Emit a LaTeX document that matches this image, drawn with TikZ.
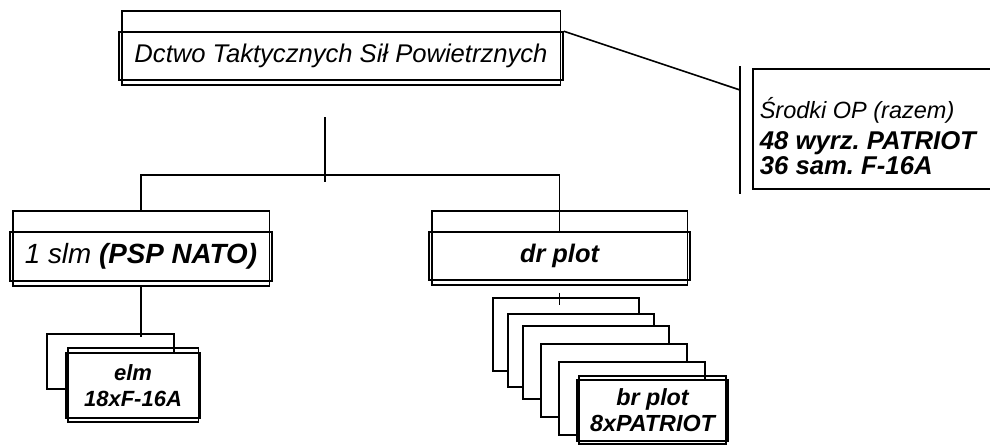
\documentclass[tikz,border=0pt]{standalone}
\usepackage{fontspec}
\setmainfont{Liberation Sans}
\usepackage{tikz}
\usetikzlibrary{positioning}
\frenchspacing

\tikzset{
	pole/.style={draw, inner sep=0pt, align=center},
	karta/.style={draw, fill=white, inner sep=0pt, align=center},
	tyl/.style={draw, fill=white, inner sep=0pt, anchor=north west, minimum width=146, minimum height=73},
}
% narrower, taller frame laid over a box: #1 node, #2 extra above, #3 extra below, #4 side inset
\newcommand{\ramka}[4]{\draw ([xshift=#4,yshift=#2]#1.north west) rectangle ([xshift=-#4,yshift=-#3]#1.south east);}

\begin{document}
\begin{tikzpicture}[x=1pt, y=-1pt, line width=1.6pt]
	\useasboundingbox (0,0) rectangle (990,447);

	% dowodztwo
	\node at (341,56) (dowodztwo) [pole, minimum width=444, minimum height=48,
		font=\itshape\fontsize{25.6}{30}\selectfont] {Dctwo Taktycznych Sił Powietrznych};
	\ramka{dowodztwo}{20pt}{4pt}{3.5pt}

	% srodki OP
	\node at (752,68) (ramkaop) [draw, anchor=north west, minimum width=260, minimum height=120] {};
	\node at (759,118) (srodki) [anchor=base west, inner sep=0pt,
		font=\itshape\fontsize{23.5}{28}\selectfont] {Środki OP (razem)};
	\node at (759,149) (wyrzutnie) [anchor=base west, inner sep=0pt,
		font=\bfseries\itshape\fontsize{25.7}{30}\selectfont] {48 wyrz. PATRIOT};
	\node at (759,174) (samoloty) [anchor=base west, inner sep=0pt,
		font=\bfseries\itshape\fontsize{25.7}{30}\selectfont] {36 sam. F-16A};
	\coordinate (klamra) at (740,90);
	\draw (dowodztwo.north east) -- (klamra);
	\draw ([xshift=-12pt,yshift=2pt]ramkaop.north west) -- ([xshift=-12pt,yshift=-4pt]ramkaop.south west);

	% pulk i dywizjon
	\node at (141,256.5) (slm) [pole, minimum width=262, minimum height=49,
		font=\itshape\fontsize{27.8}{32}\selectfont] {1 slm \textbf{(PSP NATO)}};
	\ramka{slm}{20pt}{4pt}{3.5pt}
	\node at (559.5,256) (plot) [pole, minimum width=261, minimum height=48,
		font=\bfseries\itshape\fontsize{25.4}{30}\selectfont] {dr plot};
	\ramka{plot}{20pt}{4pt}{3.5pt}

	\coordinate (pion) at (325,117);
	\coordinate (wezel) at (325,175);
	\draw (pion) -- ([yshift=-7pt]wezel);
	\draw ([yshift=20pt]slm.north) |- (wezel) -| (plot.north);

	% eskadra
	\node at (110.5,361.5) (elmtyl) [draw, fill=white, minimum width=127, minimum height=55] {};
	\node at (133,385.5) (elm) [karta, minimum width=134, minimum height=65,
		font=\bfseries\itshape\fontsize{22}{26}\selectfont] {elm\\18xF-16A};
	\ramka{elm}{4pt}{3pt}{2.5pt}
	\draw ([yshift=-4pt]slm.south) -- ([yshift=-4pt]slm.south |- elmtyl.north);

	% baterie
	\foreach \i/\x/\y in {1/492/297, 2/507/313, 3/522/325, 4/540/343, 5/558/361}
		\node at (\x,\y) (bateria\i) [tyl] {};
	\node at (652.5,410.5) (br) [karta, minimum width=151, minimum height=61,
		font=\bfseries\itshape\fontsize{23.3}{26}\selectfont] {br plot\\8xPATRIOT};
	\ramka{br}{3pt}{2pt}{3pt}
	\draw ([yshift=-12pt]plot.south) -- ([yshift=-8pt]plot.south |- bateria1.north);
\end{tikzpicture}
\end{document}
